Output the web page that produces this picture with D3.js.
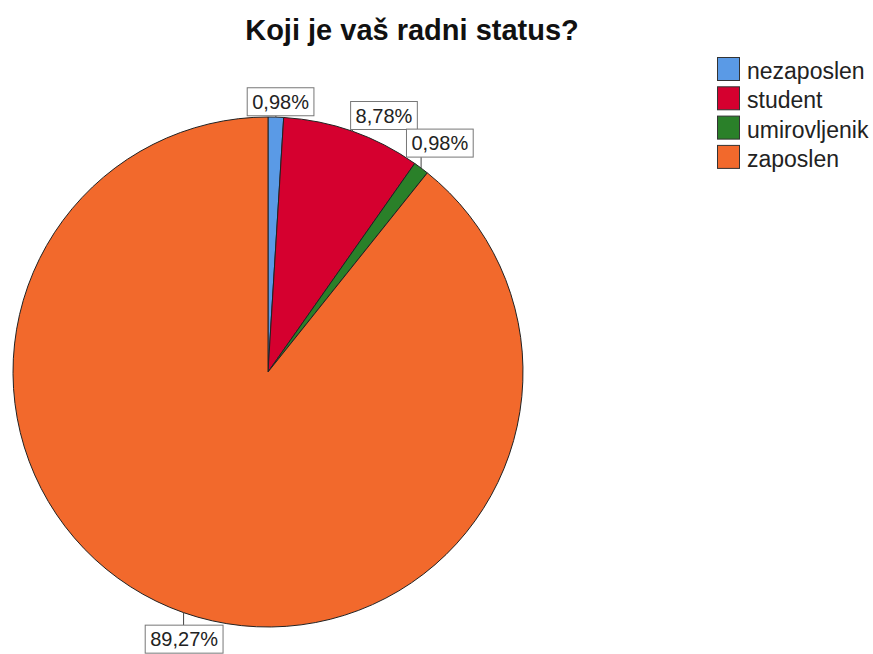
<!DOCTYPE html>
<html>
<head>
<meta charset="utf-8">
<script src="https://cdn.jsdelivr.net/npm/d3@7"></script>
<style>
  body { margin: 0; background: #fff; }
  text { font-family: "Liberation Sans", Arial, sans-serif; }
</style>
</head>
<body>
<div id="chart"></div>
<script>
// data
var categories = ["nezaposlen", "student", "umirovljenik", "zaposlen"];
var percents = [0.98, 8.78, 0.98, 89.27];
var labels = ["0,98%", "8,78%", "0,98%", "89,27%"];
var colors = ["#5a9ae6", "#d5002f", "#2a8029", "#f2692c"];
// small angle nudges (degrees) for labels, like SPSS collision avoidance
var labelNudge = [0.9, 5, 0, -1.9];

var width = 873, height = 654;
var cx = 268, cy = 372, r = 255;

var svg = d3.select("#chart")
  .append("svg")
    .attr("width", width)
    .attr("height", height);

// title
svg.append("text")
  .attr("x", 412)
  .attr("y", 40)
  .attr("text-anchor", "middle")
  .style("font-size", "29px")
  .style("font-weight", "bold")
  .style("fill", "#111")
  .text("Koji je vaš radni status?");

var pie = d3.pie().sort(null).value(function(d) { return d; });
var arcs = pie(percents);
var arc = d3.arc().innerRadius(0).outerRadius(r);

var g = svg.append("g")
  .attr("transform", "translate(" + cx + "," + cy + ")");

g.selectAll("path.slice")
  .data(arcs)
  .enter()
  .append("path")
    .attr("class", "slice")
    .attr("d", arc)
    .attr("fill", function(d, i) { return colors[i]; })
    .attr("stroke", "#222")
    .attr("stroke-width", 1);

// labels: box placed just outside the arc along the (nudged) mid angle
arcs.forEach(function(d, i) {
  var a = (d.startAngle + d.endAngle) / 2;
  var al = a + labelNudge[i] * Math.PI / 180;
  var ex = Math.sin(a) * r, ey = -Math.cos(a) * r;

  var t = g.append("text")
    .attr("text-anchor", "middle")
    .attr("dy", "0.36em")
    .style("font-size", "20px")
    .style("fill", "#222")
    .text(labels[i]);
  var tw = t.node().getComputedTextLength();
  var bw = tw + 10, bh = 28;
  var dist = r + (bw / 2) * Math.abs(Math.sin(al)) + (bh / 2) * Math.abs(Math.cos(al));
  var lx = Math.sin(al) * dist, ly = -Math.cos(al) * dist;
  t.attr("x", lx).attr("y", ly);
  var bx = lx - bw / 2, by = ly - bh / 2;

  // leader line from arc edge to the box when it sits over the box
  if (ex > bx && ex < bx + bw) {
    var edgeY = ly > ey ? by : by + bh;
    g.insert("line", "text")
      .attr("x1", ex).attr("y1", ey)
      .attr("x2", ex).attr("y2", edgeY)
      .attr("stroke", "#444");
  }

  g.insert("rect", "text")
    .attr("x", bx).attr("y", by)
    .attr("width", bw).attr("height", bh)
    .attr("fill", "#fff")
    .attr("stroke", "#777")
    .attr("stroke-width", 1);
  t.raise();
});

// legend
var legend = svg.append("g")
  .attr("transform", "translate(717,57)");
var rows = legend.selectAll("g")
  .data(categories)
  .enter()
  .append("g")
    .attr("transform", function(d, i) { return "translate(0," + (i * 29.3) + ")"; });
rows.append("rect")
  .attr("x", 0.5).attr("y", 0.5)
  .attr("width", 22).attr("height", 23)
  .attr("fill", function(d, i) { return colors[i]; })
  .attr("stroke", "#333");
rows.append("text")
  .attr("x", 30)
  .attr("y", 22)
  .style("font-size", "23px")
  .style("fill", "#222")
  .text(function(d) { return d; });
</script>
</body>
</html>
